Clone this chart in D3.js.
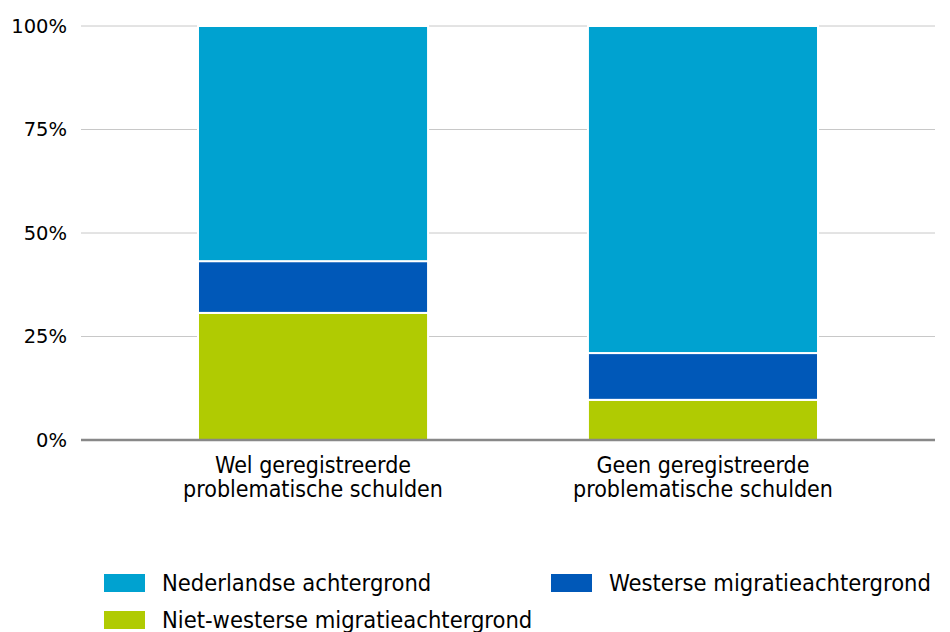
<!DOCTYPE html>
<html>
<head>
<meta charset="utf-8">
<script src="https://cdn.jsdelivr.net/npm/d3@7"></script>
<style>
  body { margin: 0; background: #fff; }
  svg { display: block; }
  text { fill: #000; }
  .narrow { font-family: "DejaVu Sans Condensed", "DejaVu Sans"; font-stretch: condensed; }
</style>
</head>
<body>
<div id="chart"></div>
<script>
// categories (x axis, two lines each)
const categories = ['Wel geregistreerde problematische schulden', 'Geen geregistreerde problematische schulden'];
const categoryLines = [['Wel geregistreerde', 'problematische schulden'], ['Geen geregistreerde', 'problematische schulden']];
// series, stacked bottom -> top
const seriesNames = ['Niet-westerse migratieachtergrond', 'Westerse migratieachtergrond', 'Nederlandse achtergrond'];
const nietWesters = [30.7, 9.7];
const westers = [12.5, 11.3];
const nederlands = [56.8, 79.0];
const tickValues = [0, 25, 50, 75, 100];
const colors = ['#b0cb02', '#0058b8', '#00a2d0'];

const width = 950, height = 632;
const margin = {top: 26, right: 15, bottom: 192, left: 81};

const svg = d3.select('#chart').append('svg')
    .attr('width', width)
    .attr('height', height);

const chart = svg.append('g')
    .attr('transform', `translate(${margin.left}, ${margin.top})`);

const w = width - margin.left - margin.right;
const h = height - margin.top - margin.bottom;

const xScale = d3.scaleBand()
    .domain(categories)
    .range([0, w])
    .paddingInner(0.41)
    .paddingOuter(0.3);
const yScale = d3.scaleLinear().domain([0, 100]).range([h, 0]);

// grid
chart.selectAll('.grid')
    .data(tickValues.filter(d => d > 0))
    .join('line')
    .attr('class', 'grid')
    .attr('x1', 0).attr('x2', w)
    .attr('y1', d => yScale(d)).attr('y2', d => yScale(d))
    .attr('stroke', '#c8c8c8')
    .attr('stroke-width', 1);

// y labels
chart.selectAll('.ylab')
    .data(tickValues)
    .join('text')
    .attr('class', 'ylab')
    .attr('x', -14)
    .attr('y', d => yScale(d))
    .attr('dy', '0.35em')
    .attr('text-anchor', 'end')
    .style('font-family', 'DejaVu Sans')
    .style('font-size', '19.5px')
    .text(d => d + '%');

// stacked data
const rows = categories.map((c, i) => ({cat: c, s0: nietWesters[i], s1: westers[i], s2: nederlands[i]}));
const stack = d3.stack().keys(['s0', 's1', 's2'])(rows);

chart.selectAll('.layer')
    .data(stack)
    .join('g')
    .attr('class', 'layer')
    .attr('fill', (d, i) => colors[i])
    .selectAll('rect')
    .data(d => d)
    .join('rect')
    .attr('x', d => xScale(d.data.cat))
    .attr('width', xScale.bandwidth())
    .attr('y', d => yScale(d[1]))
    .attr('height', d => yScale(d[0]) - yScale(d[1]))
    .attr('stroke', '#fff')
    .attr('stroke-width', 2);

// baseline
chart.append('line')
    .attr('x1', 0).attr('x2', w)
    .attr('y1', h).attr('y2', h)
    .attr('stroke', '#888')
    .attr('stroke-width', 2.5);

// x labels
chart.selectAll('.xlab')
    .data(categories)
    .join('text')
    .attr('class', 'xlab narrow')
    .attr('x', d => xScale(d) + xScale.bandwidth() / 2)
    .attr('y', h + 33)
    .attr('text-anchor', 'middle')
    .style('font-size', '23px')
    .selectAll('tspan')
    .data((d, i) => categoryLines[i])
    .join('tspan')
    .attr('x', function() { return this.parentNode.getAttribute('x'); })
    .attr('dy', (d, i) => i === 0 ? 0 : 24)
    .text(d => d);

// legend
const legendItems = [
    {name: seriesNames[2], color: colors[2], x: 104, y: 583},
    {name: seriesNames[1], color: colors[1], x: 551, y: 583},
    {name: seriesNames[0], color: colors[0], x: 104, y: 620}
];
const legend = svg.selectAll('.legend')
    .data(legendItems)
    .join('g')
    .attr('class', 'legend')
    .attr('transform', d => `translate(${d.x}, ${d.y})`);
legend.append('rect')
    .attr('x', 0).attr('y', -9)
    .attr('width', 41).attr('height', 18)
    .attr('fill', d => d.color);
legend.append('text')
    .attr('class', 'narrow')
    .attr('x', 58)
    .attr('dy', '0.35em')
    .style('font-size', '23.5px')
    .text(d => d.name);
</script>
</body>
</html>
